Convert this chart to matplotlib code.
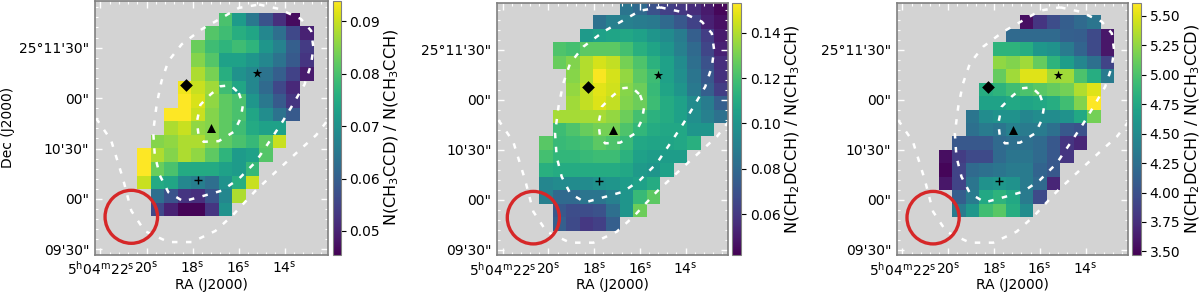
import numpy as np
import matplotlib
matplotlib.use("Agg")
import matplotlib.pyplot as plt
from matplotlib.patches import Ellipse
from matplotlib.ticker import MultipleLocator

n = np.nan

# ratio maps, rows run north to south, columns east to west
ratio_ccd_cch = [
    [n, n, n, n, n, n, n, n, n, n, n, n, n, n],
    [n, n, n, n, n, n, .080, .072, .065, .058, .052, .047, n, n],
    [n, n, n, n, n, .081, .079, .076, .074, .068, .063, .056, .050, n],
    [n, n, n, n, .083, .079, .077, .079, .077, .071, .067, .060, .054, n],
    [n, n, n, n, .085, .081, .073, .073, .071, .068, .064, .059, .053, n],
    [n, n, n, n, .088, .084, .076, .070, .068, .064, .060, .055, .049, n],
    [n, n, n, .093, .090, .087, .079, .074, .068, .062, .056, .051, n, n],
    [n, n, n, .094, .091, .086, .082, .080, .071, .065, .059, .053, n, n],
    [n, n, .094, .094, .090, .085, .082, .080, .074, .069, .064, .059, n, n],
    [n, n, .088, .090, .086, .085, .082, .079, .075, .073, .073, n, n, n],
    [n, .085, .086, .088, .088, .085, .082, .080, .078, .082, .090, n, n, n],
    [.094, .088, .085, .088, .086, .082, .077, .072, .073, .081, n, n, n, n],
    [.094, .083, .080, .075, .075, .075, .073, .072, .078, n, n, n, n, n],
    [.090, .075, .074, .068, .066, .063, .070, .076, .090, n, n, n, n, n],
    [n, .063, .058, .053, .052, .058, .068, .088, n, n, n, n, n, n],
    [n, .056, .050, .046, .046, .053, .070, n, n, n, n, n, n, n],
    [n, n, n, n, n, n, n, n, n, n, n, n, n, n],
]

ratio_dcch_cch = [
    [n, n, n, n, n, n, .085, .080, .070, .063, .060, .056, .050, .044],
    [n, n, n, n, .083, .090, .090, .088, .087, .080, .072, .064, .052, .047],
    [n, n, n, .102, .105, .107, .108, .105, .100, .095, .088, .075, .062, .050],
    [n, .122, .120, .125, .125, .125, .120, .112, .107, .100, .090, .080, .065, .052],
    [n, .127, .132, .140, .146, .143, .130, .122, .113, .105, .095, .082, .070, .057],
    [n, n, .133, .140, .152, .146, .135, .125, .118, .105, .097, .085, .072, .058],
    [n, n, .135, .143, .148, .145, .133, .128, .117, .107, .100, .087, .075, .062],
    [n, n, .137, .143, .147, .143, .132, .128, .118, .110, .105, .095, .088, .075],
    [n, .138, .138, .138, .138, .135, .128, .120, .113, .110, .105, .097, .090, .083],
    [n, .118, .122, .127, .130, .130, .122, .115, .110, .108, .108, .100, .100, n],
    [.124, .117, .118, .120, .125, .122, .117, .108, .107, .107, .108, .112, n, n],
    [.120, .115, .115, .117, .118, .118, .113, .105, .103, .103, .103, n, n, n],
    [.112, .110, .110, .110, .110, .110, .108, .102, .100, .105, n, n, n, n],
    [.093, .095, .095, .095, .098, .100, .103, .105, .110, n, n, n, n, n],
    [.090, .080, .080, .085, .085, .090, .100, .117, .125, n, n, n, n, n],
    [n, .072, .068, .068, .070, .082, .100, .128, n, n, n, n, n, n],
    [n, .075, .067, .060, .063, .075, n, n, n, n, n, n, n, n],
]

ratio_dcch_ccd = [
    [n, n, n, n, n, n, n, n, n, n, n, n, n, n],
    [n, n, n, n, n, n, 3.55, 3.80, 3.97, 4.10, 4.20, 4.30, n, n],
    [n, n, n, n, n, 4.20, 4.20, 4.20, 4.20, 4.12, 4.10, 3.95, 3.60, n],
    [n, n, n, n, 4.85, 4.85, 4.80, 4.60, 4.55, 4.35, 4.15, 3.95, 3.60, n],
    [n, n, n, n, 5.25, 5.20, 5.30, 5.10, 4.85, 4.65, 4.45, 4.25, 3.90, n],
    [n, n, n, n, 5.10, 5.30, 5.50, 5.50, 5.30, 5.30, 5.00, 4.80, 4.35, n],
    [n, n, n, 4.80, 4.85, 4.95, 5.00, 5.05, 5.10, 5.15, 5.35, 5.50, n, n],
    [n, n, n, 4.70, 4.70, 4.75, 4.72, 4.75, 4.80, 4.95, 5.20, 5.60, n, n],
    [n, n, 4.30, 4.50, 4.55, 4.55, 4.45, 4.50, 4.50, 4.55, 4.75, 5.15, n, n],
    [n, n, 4.25, 4.35, 4.30, 4.40, 4.35, 4.35, 4.25, 4.05, 4.00, n, n, n],
    [n, 4.05, 4.05, 4.05, 4.20, 4.25, 4.25, 4.20, 4.05, 3.80, 3.70, n, n, n],
    [3.55, 3.85, 3.95, 3.95, 4.20, 4.30, 4.30, 4.20, 4.05, 3.80, n, n, n, n],
    [3.50, 3.90, 4.20, 4.25, 4.30, 4.35, 4.35, 4.15, 4.05, n, n, n, n, n],
    [3.60, 3.90, 4.30, 4.55, 4.60, 4.55, 4.35, 4.20, 3.70, n, n, n, n, n],
    [n, 4.10, 4.35, 4.75, 4.85, 4.75, 4.35, 3.95, n, n, n, n, n, n],
    [n, 4.35, 4.60, 4.95, 5.05, 4.80, 4.50, n, n, n, n, n, n, n],
    [n, n, n, n, n, n, n, n, n, n, n, n, n, n],
]

# sky coordinates: RA seconds past 5h04m, Dec arcsec past 25d10m
ra_edges = 20.41 - 0.59 * np.arange(15)
dec_edges = 118.9 - 8.08 * np.arange(18)

inner_ra = [15.99, 15.81, 15.91, 16.20, 16.86, 17.52, 17.74, 17.81, 17.66, 17.23, 16.79, 16.35, 15.99]
inner_dec = [63, 56, 48, 40, 34.4, 34, 38, 46, 56, 62, 67, 67.6, 63]
middle_ra = [15.11, 14.24, 13.29, 12.85, 12.75, 12.85, 13.14, 13.65, 14.09, 14.67, 15.26, 15.99, 16.72,
             17.59, 18.40, 19.05, 19.42, 19.64, 19.71, 19.56, 19.35, 19.05, 18.47, 17.59, 16.57, 15.99, 15.11]
middle_dec = [115.6, 113, 107, 100, 90, 80, 68, 56, 46, 34, 22, 12, 5,
              1.6, -1.4, 4, 14, 26, 40, 56, 70, 82, 92, 101, 109, 113.6, 115.6]
outer_ra = [22.19, 21.54, 21.02, 20.66, 20.08, 19.05, 18.03, 17.01, 16.28, 15.26, 14.24, 13.36, 12.63, 12.12]
outer_dec = [48, 35, 12, -7, -19, -25.6, -25.6, -19, -10, 5, 18, 29, 38, 47]

source_ra = [18.28, 15.21, 17.18, 17.78]
source_dec = [67.8, 75, 42, 11.4]
source_marker = ["D", "*", "^", "+"]
source_size = [42, 50, 42, 30]

beam_ra, beam_dec = 20.66, -10.6
beam_w, beam_h = 2.28, 31.5

ra_ticks = [22, 20, 18, 16, 14]
ra_labels = [r"$5^{\mathrm{h}}04^{\mathrm{m}}22^{\mathrm{s}}$", r"$20^{\mathrm{s}}$", r"$18^{\mathrm{s}}$",
             r"$16^{\mathrm{s}}$", r"$14^{\mathrm{s}}$"]
dec_ticks = [90, 60, 30, 0, -30]
dec_labels = ["25°11'30\"", "00\"", "10'30\"", "00\"", "09'30\""]

labels = [r"N(CH$_3$CCD) / N(CH$_3$CCH)", r"N(CH$_2$DCCH) / N(CH$_3$CCH)", r"N(CH$_2$DCCH) / N(CH$_3$CCD)"]
maps = [ratio_ccd_cch, ratio_dcch_cch, ratio_dcch_ccd]
vranges = [(0.0455, 0.094), (0.042, 0.153), (3.47, 5.605)]
cb_ticks = [[.05, .06, .07, .08, .09], [.06, .08, .10, .12, .14],
            [3.5, 3.75, 4, 4.25, 4.5, 4.75, 5, 5.25, 5.5]]

# left, right, top, bottom of image axes then left, right of colorbar, in pixels
boxes = [(94.7, 327.7, 0.5, 254.5, 332.7, 340.5),
         (497, 728.3, 3.3, 255, 732, 740.7),
         (896.7, 1128.3, 3.3, 255, 1132, 1140.7)]

W, H = 1200, 293
fig = plt.figure(figsize=(W / 100, H / 100), dpi=100)


def px_axes(l, r, t, b):
    return fig.add_axes([l / W, 1 - b / H, (r - l) / W, (b - t) / H])


for i in range(3):
    l, r, t, b, cl, cr = boxes[i]
    ax = px_axes(l, r, t, b)
    ax.set_facecolor("lightgray")
    im = ax.pcolormesh(ra_edges, dec_edges, np.ma.masked_invalid(maps[i]), cmap="viridis",
                       vmin=vranges[i][0], vmax=vranges[i][1])
    ax.set_xlim(22.25, 12.13)
    ax.set_ylim(-33, 118)

    dash = (0, (2.2, 3.4))
    ax.plot(inner_ra, inner_dec, color="white", lw=1.8, ls=dash)
    ax.plot(middle_ra, middle_dec, color="white", lw=1.8, ls=dash)
    ax.plot(outer_ra, outer_dec, color="white", lw=1.8, ls=dash)

    for j in range(4):
        ax.scatter(source_ra[j], source_dec[j], marker=source_marker[j], s=source_size[j],
                   color="k", linewidths=1.0 if source_marker[j] == "+" else 0, zorder=5)
    ax.add_patch(Ellipse((beam_ra, beam_dec), beam_w, beam_h, fill=False, edgecolor="#d62728", lw=2.4, zorder=6))

    ax.set_xticks(ra_ticks)
    ax.set_xticklabels(ra_labels)
    ax.set_yticks(dec_ticks)
    ax.set_yticklabels(dec_labels)
    ax.xaxis.set_minor_locator(MultipleLocator(0.4))
    ax.yaxis.set_minor_locator(MultipleLocator(6))
    ax.tick_params(which="both", direction="in", color="white", top=True, right=True, labelsize=10)
    ax.tick_params(which="major", length=5, width=1, pad=4)
    ax.tick_params(which="minor", length=2.5, width=0.8)
    for s in ax.spines.values():
        s.set_color("#808080")
        s.set_linewidth(1.2)

    ax.set_xlabel("RA (J2000)", fontsize=10, labelpad=0)
    if i == 0:
        ax.set_ylabel("Dec (J2000)", fontsize=10, labelpad=3)

    cax = px_axes(cl, cr, t, b)
    cb = fig.colorbar(im, cax=cax, ticks=cb_ticks[i], format="%.2f")
    cb.ax.tick_params(labelsize=10, length=3.5, width=0.8, color="k", pad=3)
    cb.set_label(labels[i], fontsize=11.6, labelpad=2)
    cb.outline.set_edgecolor("#808080")

fig.savefig("out.png", dpi=100)
